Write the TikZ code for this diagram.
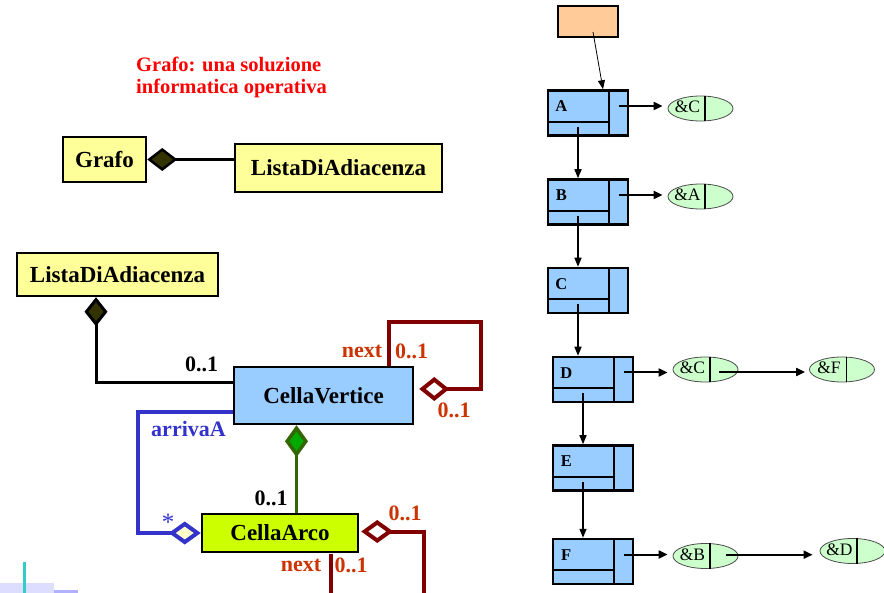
\documentclass[tikz,border=0pt]{standalone}
\usepackage{fontspec}
\setmainfont{Liberation Serif}
\usetikzlibrary{arrows.meta,shapes.geometric,calc}
\definecolor{umlyellow}{HTML}{FFFF99}
\definecolor{vertblue}{HTML}{99CCFF}
\definecolor{arcyellow}{HTML}{CCFF00}
\definecolor{darkolive}{HTML}{333300}
\definecolor{nextred}{HTML}{800000}
\definecolor{labelred}{HTML}{CC3300}
\definecolor{arrblue}{HTML}{3333CC}
\definecolor{paleyellow}{HTML}{FFFFCC}
\definecolor{diagreen}{HTML}{00AA00}
\definecolor{olivegreen}{HTML}{336600}
\definecolor{peach}{HTML}{FFCC99}
\definecolor{refgreen}{HTML}{CCFFCC}
\definecolor{lavender}{HTML}{DDDDFF}
\definecolor{tealbar}{HTML}{33CCCC}

\begin{document}
\begin{tikzpicture}[x=1pt, y=-1pt, line join=miter,
  uml/.style={draw, line width=2.5pt, inner sep=0pt, font=\fontsize{23}{27}\selectfont\bfseries},
  lbl/.style={inner sep=0pt, font=\fontsize{22}{26}\selectfont\bfseries},
  nextline/.style={draw=nextred, line width=4pt},
  cell/.style={draw, line width=2.5pt, fill=vertblue, minimum width=80pt, minimum height=45pt, inner sep=0pt},
  ref/.style={ellipse, draw=black!70, line width=0.8pt, fill=refgreen, minimum width=65pt, minimum height=25pt, inner sep=0pt},
  ptr/.style={line width=2pt, -{Triangle[length=9pt,width=8pt]}},
  down/.style={line width=1.4pt, -{Triangle[length=9pt,width=7pt]}}]
\useasboundingbox (0,0) rectangle (884,593);

% titolo
\node[anchor=north west, align=left, inner sep=0pt, text=red, font=\fontsize{20.5}{22}\selectfont\bfseries] (titolo) at (136,57) {Grafo: una soluzione\\informatica operativa};

% diagramma UML
\node[uml, fill=umlyellow, minimum width=83pt, minimum height=45pt] (grafo) at (104.5,159.5) {Grafo};
\node[uml, fill=umlyellow, minimum width=207pt, minimum height=48pt] (lista) at (338.5,168) {ListaDiAdiacenza};
\node[uml, fill=umlyellow, minimum width=201pt, minimum height=43pt] (lista2) at (117.5,274.5) {ListaDiAdiacenza};
\node[uml, fill=vertblue, minimum width=179pt, minimum height=57pt] (cv) at (323.5,395.5) {CellaVertice};
\node[uml, fill=arcyellow, minimum width=156pt, minimum height=38pt] (ca) at (280,533) {CellaArco};

\draw[line width=2.5pt, {Diamond[length=30pt,width=23pt,fill=darkolive]}-] (grafo.east) -- (grafo.east -| lista.west);
\draw[line width=3pt, {Diamond[length=29pt,width=23pt,fill=darkolive]}-] ([xshift=-21.5pt]lista2.south) |- ([yshift=13pt]cv.west);
\draw[nextline, {Diamond[length=30pt,width=24pt,fill=white]}-] ([xshift=5pt,yshift=6.5pt]cv.east) -- ++(62,0) |- ([xshift=-25pt,yshift=44pt]cv.north east) -- ([xshift=-25pt]cv.north east);
\draw[draw=arrblue, line width=4pt, -{Diamond[length=32pt,width=23pt,fill=paleyellow]}] ([yshift=-17pt]cv.west) -| ([xshift=-62.5pt]ca.west) -- (ca.west);
\draw[draw=olivegreen, line width=3.5pt, {Diamond[length=32pt,width=23pt,fill=diagreen]}-] ([xshift=-27pt]cv.south) -- ([xshift=-27pt]cv.south |- ca.north);
\draw[nextline, {Diamond[length=32pt,width=23pt,fill=white]}-] ([xshift=2pt,yshift=1.5pt]ca.east) -| ++(63,62);
\draw[nextline] ([xshift=51pt,yshift=-1pt]ca.south) -- ++(0,42);

\node[lbl] (m1) at (201.5,364.5) {0..1};
\node[lbl, text=labelred] (m2) at (362,351) {next};
\node[lbl, text=labelred] (m3) at (411.5,351) {0..1};
\node[lbl, text=labelred] (m4) at (454,410.5) {0..1};
\node[lbl, text=arrblue] (m5) at (188.5,428.5) {arrivaA};
\node[inner sep=0pt, text=arrblue, font=\fontsize{25}{25}\selectfont] (m6) at (168,522) {*};
\node[lbl] (m7) at (271,498) {0..1};
\node[lbl, text=labelred] (m8) at (405,513) {0..1};
\node[lbl, text=labelred] (m9) at (301,565) {next};
\node[lbl, text=labelred] (m10) at (351,565) {0..1};

% lista di adiacenza
\node[draw, line width=2.5pt, fill=peach, minimum width=60pt, minimum height=31pt, inner sep=0pt] (testa) at (588,21.5) {};
\foreach \t/\x/\y in {A/588/113, B/588/202, C/588/290.5, D/593/379.5, E/593/468, F/593/561.5}{
  \node[cell] (\t) at (\x,\y) {};
  \draw[line width=1.6pt] ([xshift=-20pt]\t.north east) -- ([xshift=-20pt]\t.south east)
    ([yshift=15pt]\t.south west) -- ([xshift=-20pt,yshift=15pt]\t.south east);
  \node[inner sep=0pt, font=\fontsize{16.5}{18}\selectfont\bfseries] (n\t) at ([xshift=14.5pt,yshift=-17pt]\t.north west) {\t};
}
\draw[line width=0.8pt, -{Triangle[length=9pt,width=7pt]}] ([xshift=5pt,yshift=-10.5pt]testa.center) -- ([xshift=15pt]A.north);
\foreach \a/\b in {A/B, B/C, C/D, D/E, E/F}
  \draw[down] ([xshift=-10pt,yshift=10pt]\a.south) -- ([xshift=-10pt]\a.south |- \b.north);

\foreach \n/\x/\y/\v in {pA/700.5/108.5/C, pB/700.5/196.5/A, pD1/705.5/369.5/C, pD2/842/369.5/F, pF1/705.5/556/B, pF2/852.5/551/D}{
  \node[ref] (\n) at (\x,\y) {};
  \draw[line width=1.6pt] ([xshift=4.5pt]\n.north) -- ([xshift=4.5pt]\n.south);
  \node[inner sep=0pt, font=\fontsize{17.5}{18}\selectfont] (l\n) at ([xshift=-13pt,yshift=1.5pt]\n.center) {\&\v};
}
\foreach \a/\b in {A/pA, B/pB, D/pD1, F/pF1}
  \draw[ptr] ([xshift=-10pt,yshift=7pt]\a.east) -- ([xshift=-5pt,yshift=7pt]\a.east -| \b.west);
\draw[ptr] ([xshift=13.5pt,yshift=-2.5pt]pD1.center) -- ([xshift=-4pt,yshift=-2.5pt]pD2.west);
\draw[ptr] ([xshift=20.5pt,yshift=1.3pt]pF1.center) -- ([xshift=-7pt,yshift=-3.7pt]pF2.west);

% decorazione in basso
\fill[lavender] (0,583) rectangle (54,593);
\fill[lavender!80!blue] (54,590) rectangle (78,593);
\fill[tealbar] (23,562) rectangle (26,593);
\end{tikzpicture}
\end{document}
